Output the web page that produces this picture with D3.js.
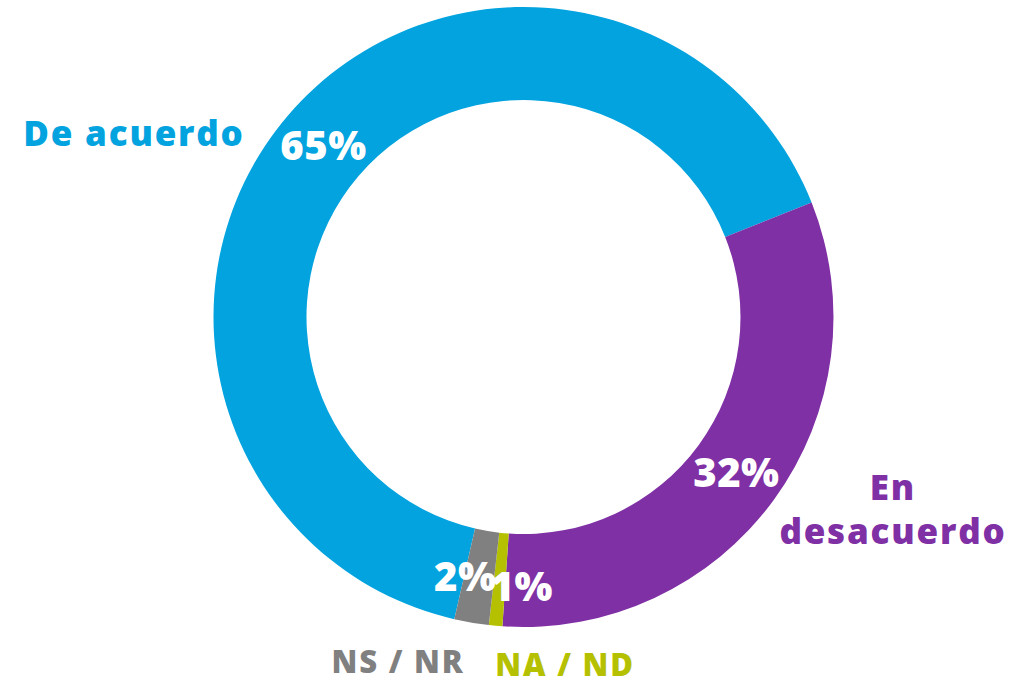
<!DOCTYPE html>
<html>
<head>
<meta charset="utf-8">
<script src="https://cdn.jsdelivr.net/npm/d3@7"></script>
<style>
  html, body { margin: 0; padding: 0; background: #fff; }
  svg text { font-family: "Open Sans", "DejaVu Sans", sans-serif; font-weight: 800; }
</style>
</head>
<body>
<div id="chart"></div>
<script>
// data
const categories = ["De acuerdo", "En desacuerdo", "NA / ND", "NS / NR"];
const values = [65.4, 32.1, 0.7, 1.8];
const colors = ["#03A3DF", "#7F30A5", "#B5C100", "#808080"];

const width = 1026, height = 684;
const cx = 523.5, cy = 317;
const outerR = 310, innerR = 217;

const svg = d3.select("#chart").append("svg")
    .attr("width", width)
    .attr("height", height);

const g = svg.append("g")
    .attr("transform", `translate(${cx},${cy})`);

const startDeg = -167.1;
const pie = d3.pie()
    .sort(null)
    .value(d => d)
    .startAngle(startDeg * Math.PI / 180)
    .endAngle((startDeg + 360) * Math.PI / 180);

const arcs = pie(values);

const arc = d3.arc()
    .innerRadius(innerR)
    .outerRadius(outerR);

g.selectAll("path.slice")
    .data(arcs)
    .enter()
    .append("path")
    .attr("class", "slice")
    .attr("d", arc)
    .attr("fill", (d, i) => colors[i]);

// percentage labels inside the ring (small slices nudged apart)
const nudge = [[0, 0], [0, 0], [22, 7], [-14, 0]];
g.selectAll("text.pct")
    .data(arcs)
    .enter()
    .append("text")
    .attr("class", "pct")
    .attr("x", (d, i) => arc.centroid(d)[0] + nudge[i][0])
    .attr("y", (d, i) => arc.centroid(d)[1] + nudge[i][1])
    .attr("dy", "0.36em")
    .attr("text-anchor", "middle")
    .attr("fill", "#fff")
    .attr("font-size", 40)
    .attr("letter-spacing", 0.5)
    .text(d => Math.round(d.value) + "%");

// category labels
const labelPos = [
    {x: 134, y: 146, lines: ["De acuerdo"]},
    {x: 893, y: 500, lines: ["En", "desacuerdo"]},
    {x: 565, y: 676, lines: ["NA / ND"]},
    {x: 398, y: 673, lines: ["NS / NR"]}
];

categories.forEach((c, i) => {
    const p = labelPos[i];
    const t = svg.append("text")
        .attr("x", p.x)
        .attr("y", p.y)
        .attr("text-anchor", "middle")
        .attr("fill", colors[i])
        .attr("font-size", i >= 2 ? 31 : 35)
        .attr("letter-spacing", 1.8);
    p.lines.forEach((l, j) => {
        t.append("tspan")
            .attr("x", p.x)
            .attr("dy", j === 0 ? 0 : 44)
            .text(l);
    });
});
</script>
</body>
</html>
